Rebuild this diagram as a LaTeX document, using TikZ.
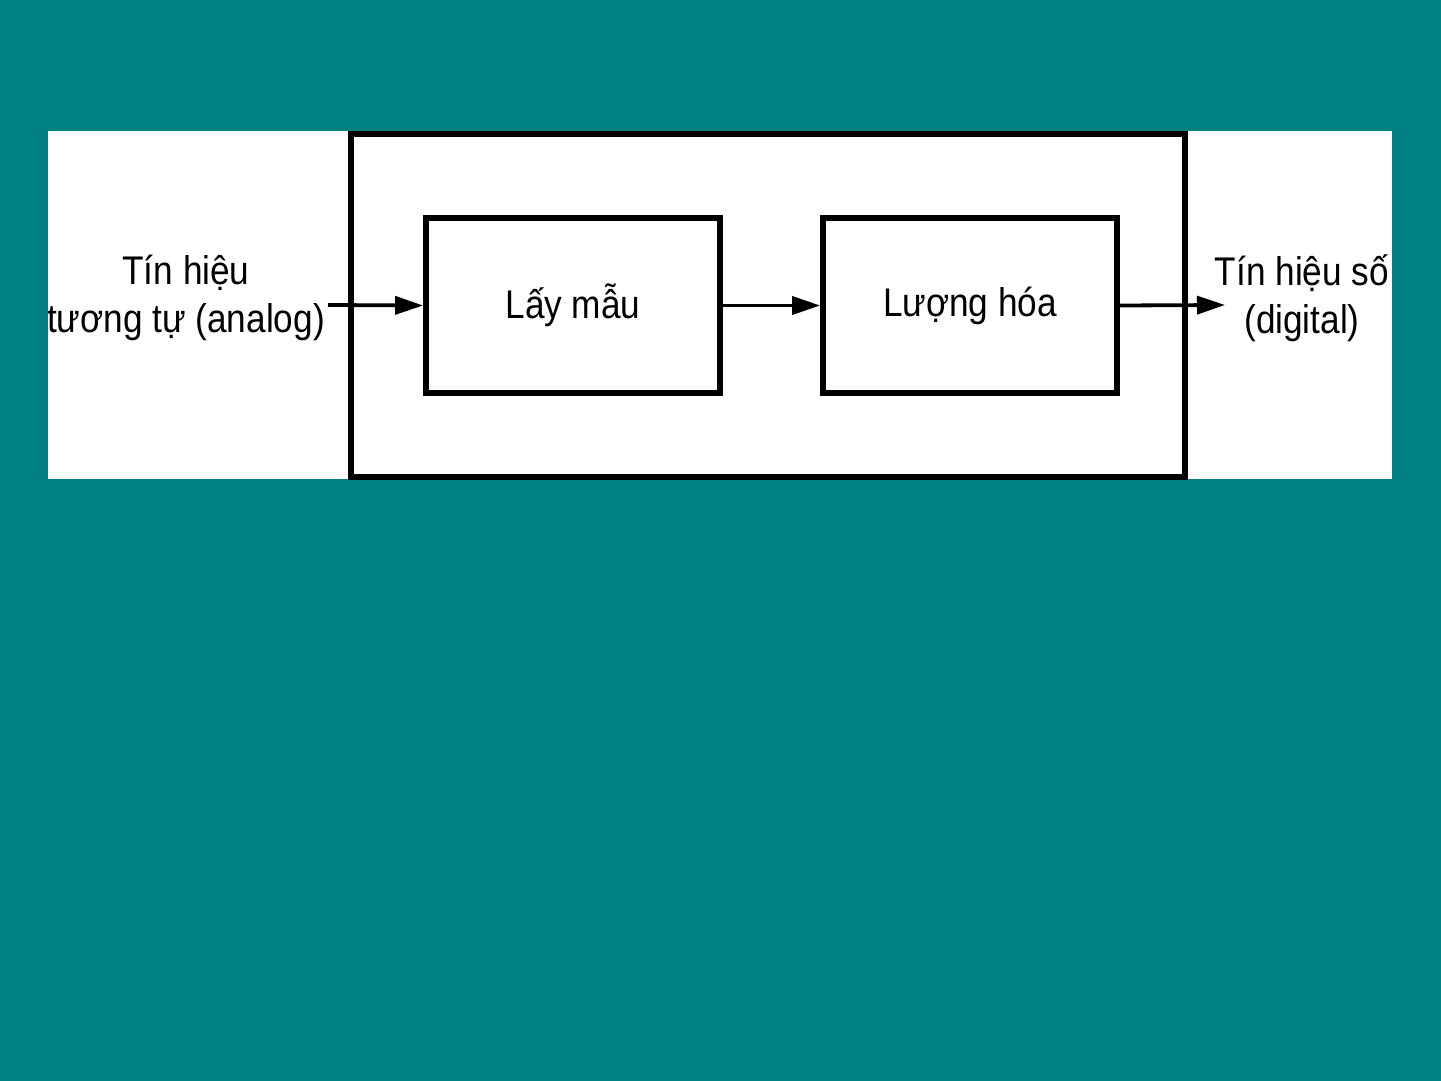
\documentclass[tikz,border=0pt]{standalone}
\usepackage{fontspec}
\setmainfont{Liberation Sans}[FakeStretch=0.88]
\usetikzlibrary{arrows.meta}
\definecolor{teal0}{HTML}{008080}
\begin{document}
\begin{tikzpicture}[x=0.5pt,y=-0.5pt,
  blk/.style={draw=black,line width=2.9pt,minimum width=147pt,minimum height=87.5pt,inner sep=0pt,font=\fontsize{20}{24}\selectfont},
  lbl/.style={align=center,inner sep=0pt,font=\fontsize{20}{24}\selectfont},
  conn/.style={line width=1.9pt,-{Triangle[length=14pt,width=9pt]}}]
\useasboundingbox (0,0) rectangle (1441,1081);
\fill[teal0] (0,0) rectangle (1441,1081);
\fill[white] (48,131) rectangle (1392,479);
\draw[line width=2.6pt] (351,134) rectangle (1185,477);
\node[blk] (s) at (573,305.5) {Lấy mẫu};
\node[blk] (q) at (970,305.5) {Lượng hóa};
\begin{scope}
\clip (48,131) rectangle (1392,479);
\node[lbl] (in) at (186,298) {Tín hiệu\\tương tự (analog)};
\node[lbl] (out) at (1302,298) {Tín hiệu số\\(digital)};
\end{scope}
\coordinate (a0) at (328,305);
\coordinate (a3) at (1225,305);
\draw[conn] (a0) -- (s.west);
\draw[conn] (s.east) -- (q.west);
\draw[conn] (q.east) -- (a3);
\end{tikzpicture}
\end{document}
